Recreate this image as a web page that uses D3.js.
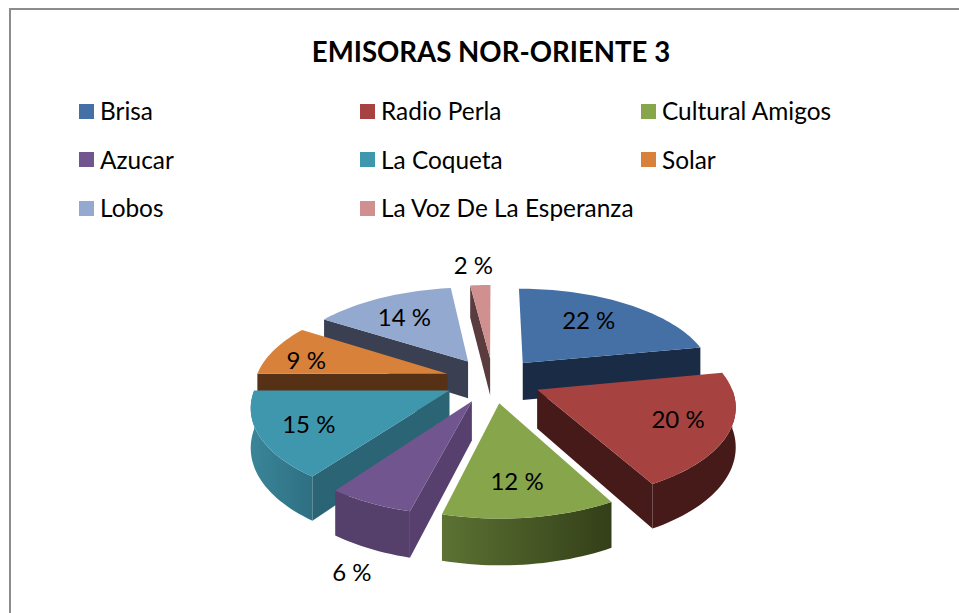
<!DOCTYPE html>
<html><head><meta charset="utf-8">
<script src="https://cdn.jsdelivr.net/npm/d3@7"></script>
<style>html,body{margin:0;padding:0;background:#fff}svg{display:block}text{font-family:Lato,"Open Sans",sans-serif;fill:#000}</style>
</head><body><svg id="c" width="959" height="613"></svg>
<script>
const title = "EMISORAS NOR-ORIENTE 3";
const categories = ["Brisa","Radio Perla","Cultural Amigos","Azucar","La Coqueta","Solar","Lobos","La Voz De La Esperanza"];
const values = [22,20,12,6,15,9,14,2];
const topColors = ["#4470a6","#a64341","#87a54b","#70558f","#3f97ae","#d8813a","#93a9cf","#d09090"];
const sideColors = ["#1a2b45","#451a18","#3c4a1e","#573f6e","#2a6475","#563116","#3a4052","#5a3c3e"];
const wallFrom = ["#1a2b45","#451a18","#5c7233","#54406a","#3a8599","#563116","#3a4052","#5a3c3e"];
const wallTo = ["#1a2b45","#451a18","#333f18","#54406a","#2f6f82","#563116","#3a4052","#5a3c3e"];
const labelNudge = [[-1,-4],[25,5],[0,13],[-6,58],[-26,7],[-32,2],[-8,-2],[-6,-13]];
const labelRadius = [0.62,0.62,0.62,1.1,0.62,0.62,0.62,1.1];

const W=959,H=613,cx=493,cy=380,R=192,squash=0.47,persp=0.15,explode=0.25,depth=38;
const svg=d3.select("#c");
const defs=svg.append("defs");
svg.append("rect").attr("x",10).attr("y",9).attr("width",960).attr("height",640)
  .attr("fill","#fff").attr("stroke","#8c8c8c").attr("stroke-width",2);
svg.append("text").attr("x",491).attr("y",62).attr("text-anchor","middle")
  .attr("font-size",27.6).attr("font-weight",700).text(title);

const legendX=d3.scalePoint().domain([0,1,2]).range([79,641]);
const legendY=d3.scalePoint().domain([0,1,2]).range([104,201]);
categories.forEach((c,i)=>{
  const col=i%3,row=Math.floor(i/3);
  svg.append("rect").attr("x",legendX(col)).attr("y",Math.floor(legendY(row))).attr("width",15).attr("height",15).attr("fill",topColors[i]);
  svg.append("text").attr("x",legendX(col)+21).attr("y",Math.ceil(legendY(row))+15.5).attr("font-size",24.4).text(c);
});

const arcs=d3.pie().sort(null).value(d=>d)(values);
const line=d3.line();
function project(theta,r,z,off){
  const X=r*Math.sin(theta)+off[0],Y=r*Math.cos(theta)+off[1];
  const s=1/(1+persp*Y);
  return [cx+R*X*s, cy-R*squash*Y*s+z*depth*s];
}
function sample(a0,a1){const n=Math.max(2,Math.ceil((a1-a0)/0.03));return d3.range(n+1).map(i=>a0+(a1-a0)*i/n);}

const order=arcs.map((a,i)=>i).sort((p,q)=>
  Math.cos((arcs[q].startAngle+arcs[q].endAngle)/2)-Math.cos((arcs[p].startAngle+arcs[p].endAngle)/2));

order.forEach(i=>{
  const a=arcs[i],mid=(a.startAngle+a.endAngle)/2;
  const off=[explode*Math.sin(mid),explode*Math.cos(mid)];
  const g=svg.append("g");
  const radial=t=>[project(0,0,0,off),project(t,1,0,off),project(t,1,1,off),project(0,0,1,off)];
  if(a.endAngle<Math.PI) g.append("path").attr("d",line(radial(a.endAngle))+"Z").attr("fill",sideColors[i]);
  if(a.startAngle>Math.PI) g.append("path").attr("d",line(radial(a.startAngle))+"Z").attr("fill",sideColors[i]);
  const w0=Math.max(a.startAngle,Math.PI/2),w1=Math.min(a.endAngle,Math.PI*1.5);
  if(w1>w0){
    const id="wall"+i;
    const gr=defs.append("linearGradient").attr("id",id);
    gr.append("stop").attr("offset",0).attr("stop-color",wallFrom[i]);
    gr.append("stop").attr("offset",1).attr("stop-color",wallTo[i]);
    const s=sample(w0,w1);
    const pts=s.map(t=>project(t,1,0,off)).concat(s.slice().reverse().map(t=>project(t,1,1,off)));
    g.append("path").attr("d",line(pts)+"Z").attr("fill",`url(#${id})`);
  }
  const top=[project(0,0,0,off)].concat(sample(a.startAngle,a.endAngle).map(t=>project(t,1,0,off)));
  g.append("path").attr("d",line(top)+"Z").attr("fill",topColors[i]);
});

arcs.forEach((a,i)=>{
  const mid=(a.startAngle+a.endAngle)/2;
  const off=[explode*Math.sin(mid),explode*Math.cos(mid)];
  const p=project(mid,labelRadius[i],0,off);
  svg.append("text").attr("x",p[0]+labelNudge[i][0]).attr("y",p[1]+labelNudge[i][1]+8)
    .attr("text-anchor","middle").attr("font-size",24).text(values[i]+" %");
});
</script></body></html>
